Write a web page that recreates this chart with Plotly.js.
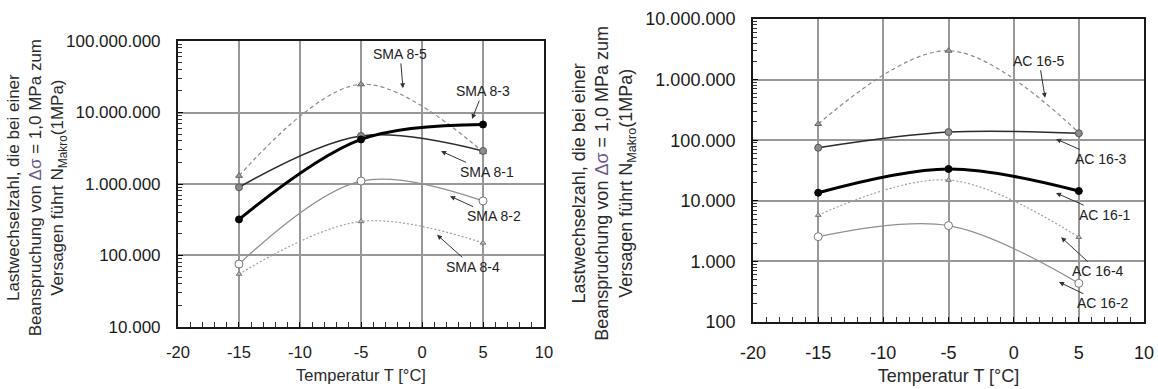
<!DOCTYPE html>
<html>
<head>
<meta charset="utf-8">
<script src="https://cdn.plot.ly/plotly-3.0.1.min.js"></script>
<style>html,body{margin:0;padding:0;background:#fff;}#chart{width:1158px;height:389px;}</style>
</head>
<body>
<div id="chart"></div>
<script>
// ---- data ----
const temps = [-15, -5, 5];

const sma85 = [1300000, 24800000, 2800000];
const sma83 = [320000, 4200000, 6800000];
const sma81 = [900000, 4700000, 2900000];
const sma82 = [76000, 1100000, 580000];
const sma84 = [55000, 300000, 150000];

const ac165 = [185000, 3000000, 133000];
const ac163 = [75000, 136000, 130000];
const ac161 = [13600, 33500, 14500];
const ac164 = [5800, 22000, 2500];
const ac162 = [2560, 3900, 435];

const leftTickVals = [1e4, 1e5, 1e6, 1e7, 1e8];
const leftTickText = ['10.000', '100.000', '1.000.000', '10.000.000', '100.000.000'];
const rightTickVals = [1e2, 1e3, 1e4, 1e5, 1e6, 1e7];
const rightTickText = ['100', '1.000', '10.000', '100.000', '1.000.000', '10.000.000'];
const xTickVals = [-20, -15, -10, -5, 0, 5, 10];
const xTickText = ['-20', '-15', '-10', '-5', '0', '5', '10'];

const yTitle = 'Lastwechselzahl, die bei einer<br>Beanspruchung von <span style="color:#6b5b8c">Δσ</span> = 1,0 MPa zum<br>Versagen führt N<sub>Makro</sub>(1MPa)';
const xTitle = 'Temperatur T [°C]';

// ---- styles ----
const styles = {
  s5: {line: {color: '#8a8a8a', width: 1.2, dash: '4px,3px', shape: 'spline'}, marker: {symbol: 'triangle-up', size: 6, color: '#9a9a9a', line: {color: '#666', width: 1}}},
  s1: {line: {color: '#2b2b2b', width: 1.5, shape: 'spline'}, marker: {symbol: 'circle', size: 7, color: '#8c8c8c', line: {color: '#555', width: 1}}},
  s3: {line: {color: '#000', width: 3, shape: 'spline'}, marker: {symbol: 'circle', size: 7, color: '#000', line: {color: '#000', width: 1}}},
  s2: {line: {color: '#8f8f8f', width: 1.2, shape: 'spline'}, marker: {symbol: 'circle', size: 8, color: '#fff', line: {color: '#777', width: 1}}},
  s4: {line: {color: '#a0a0a0', width: 1.2, dash: '2px,2px', shape: 'spline'}, marker: {symbol: 'triangle-up', size: 5, color: '#bbb', line: {color: '#777', width: 1}}}
};

function tr(name, ys, st, xa, ya) {
  return {x: temps, y: ys, name: name, type: 'scatter', mode: 'lines+markers',
    line: st.line, marker: st.marker, xaxis: xa, yaxis: ya, showlegend: false, cliponaxis: false};
}

const traces = [
  tr('SMA 8-5', sma85, styles.s5, 'x', 'y'),
  tr('SMA 8-4', sma84, styles.s4, 'x', 'y'),
  tr('SMA 8-2', sma82, styles.s2, 'x', 'y'),
  tr('SMA 8-1', sma81, styles.s1, 'x', 'y'),
  tr('SMA 8-3', sma83, styles.s3, 'x', 'y'),
  tr('AC 16-5', ac165, styles.s5, 'x2', 'y2'),
  tr('AC 16-4', ac164, styles.s4, 'x2', 'y2'),
  tr('AC 16-2', ac162, styles.s2, 'x2', 'y2'),
  tr('AC 16-3', ac163, styles.s1, 'x2', 'y2'),
  tr('AC 16-1', ac161, styles.s3, 'x2', 'y2')
];

const FONT = 'Liberation Sans, Arial, sans-serif';
const GRID = '#989898';

function xaxis(domain, anchor, fs, lstand, tstand) {
  return {domain: domain, anchor: anchor, range: [-20, 10], tickmode: 'array', tickvals: xTickVals, ticktext: xTickText,
    ticks: 'inside', ticklen: 5, tickcolor: '#000', showline: true, linecolor: '#1a1a1a', linewidth: 2, mirror: true,
    showgrid: true, gridcolor: GRID, gridwidth: 2, zeroline: false, ticklabelstandoff: lstand,
    minor: {dtick: 1, ticks: 'inside', ticklen: 5, tickcolor: '#333', showgrid: false},
    tickfont: {family: FONT, size: fs, color: '#1a1a1a'},
    title: {text: xTitle, font: {family: FONT, size: fs, color: '#2a2a2a'}, standoff: tstand}};
}
function yaxis(domain, anchor, lo, hi, vals, text, fs) {
  return {domain: domain, anchor: anchor, type: 'log', range: [lo, hi], tickmode: 'array', tickvals: vals, ticktext: text,
    ticks: 'inside', ticklen: 5, tickcolor: '#000', showline: true, linecolor: '#1a1a1a', linewidth: 2, mirror: true,
    showgrid: true, gridcolor: GRID, gridwidth: 2, zeroline: false, ticklabelstandoff: 12,
    minor: {dtick: 'D1', ticks: 'inside', ticklen: 4, tickcolor: '#333', showgrid: false},
    tickfont: {family: FONT, size: fs, color: '#1a1a1a'}};
}

function lab(text, xa, ya, tipX, tipY, txtX, txtY) {
  return {text: text, xref: xa, yref: ya, x: tipX, y: tipY, axref: xa, ayref: ya, ax: txtX, ay: txtY,
    showarrow: true, arrowhead: 2, arrowsize: 1, arrowwidth: 1, arrowcolor: '#333', standoff: 0,
    font: {family: FONT, size: 14, color: '#222'}};
}

const layout = {
  width: 1158, height: 389, margin: {l: 0, r: 0, t: 0, b: 0},
  paper_bgcolor: '#fff', plot_bgcolor: '#fff', showlegend: false,
  font: {family: FONT},
  xaxis: xaxis([0.1537, 0.4698], 'y', 16.5, 9, 10),
  yaxis: yaxis([0.1594, 0.8946], 'x', 4, 8, leftTickVals, leftTickText, 17),
  xaxis2: xaxis([0.6503, 0.9879], 'y2', 18, 13, 8),
  yaxis2: yaxis([0.1722, 0.9512], 'x2', 2, 7, rightTickVals, rightTickText, 18),
  annotations: [
    {text: yTitle, xref: 'paper', yref: 'paper', x: 0.032, y: 0.516, xanchor: 'center', yanchor: 'middle', textangle: -90, showarrow: false,
     font: {family: FONT, size: 17, color: '#2a2a2a'}},
    {text: yTitle, xref: 'paper', yref: 'paper', x: 0.5215, y: 0.53, xanchor: 'center', yanchor: 'middle', textangle: -90, showarrow: false,
     font: {family: FONT, size: 18, color: '#2a2a2a'}},
    lab('SMA 8-5', 'x', 'y', -1.56, 7.34, -1.8, 7.82),
    lab('SMA 8-3', 'x', 'y', 4.1, 6.91, 5.0, 7.30),
    lab('SMA 8-1', 'x', 'y', 1.56, 6.46, 5.33, 6.17),
    lab('SMA 8-2', 'x', 'y', 2.3, 5.83, 5.9, 5.55),
    lab('SMA 8-4', 'x', 'y', 1.23, 5.29, 4.18, 4.84),
    lab('AC 16-5', 'x2', 'y2', 2.41, 5.70, 1.95, 6.31),
    lab('AC 16-3', 'x2', 'y2', 3.25, 5.02, 6.71, 4.69),
    lab('AC 16-1', 'x2', 'y2', 3.25, 4.13, 7.01, 3.77),
    lab('AC 16-4', 'x2', 'y2', 3.64, 3.40, 6.48, 2.84),
    lab('AC 16-2', 'x2', 'y2', 3.48, 2.66, 6.86, 2.31)
  ]
};

Plotly.newPlot('chart', traces, layout, {staticPlot: true, displayModeBar: false});
</script>
</body>
</html>
